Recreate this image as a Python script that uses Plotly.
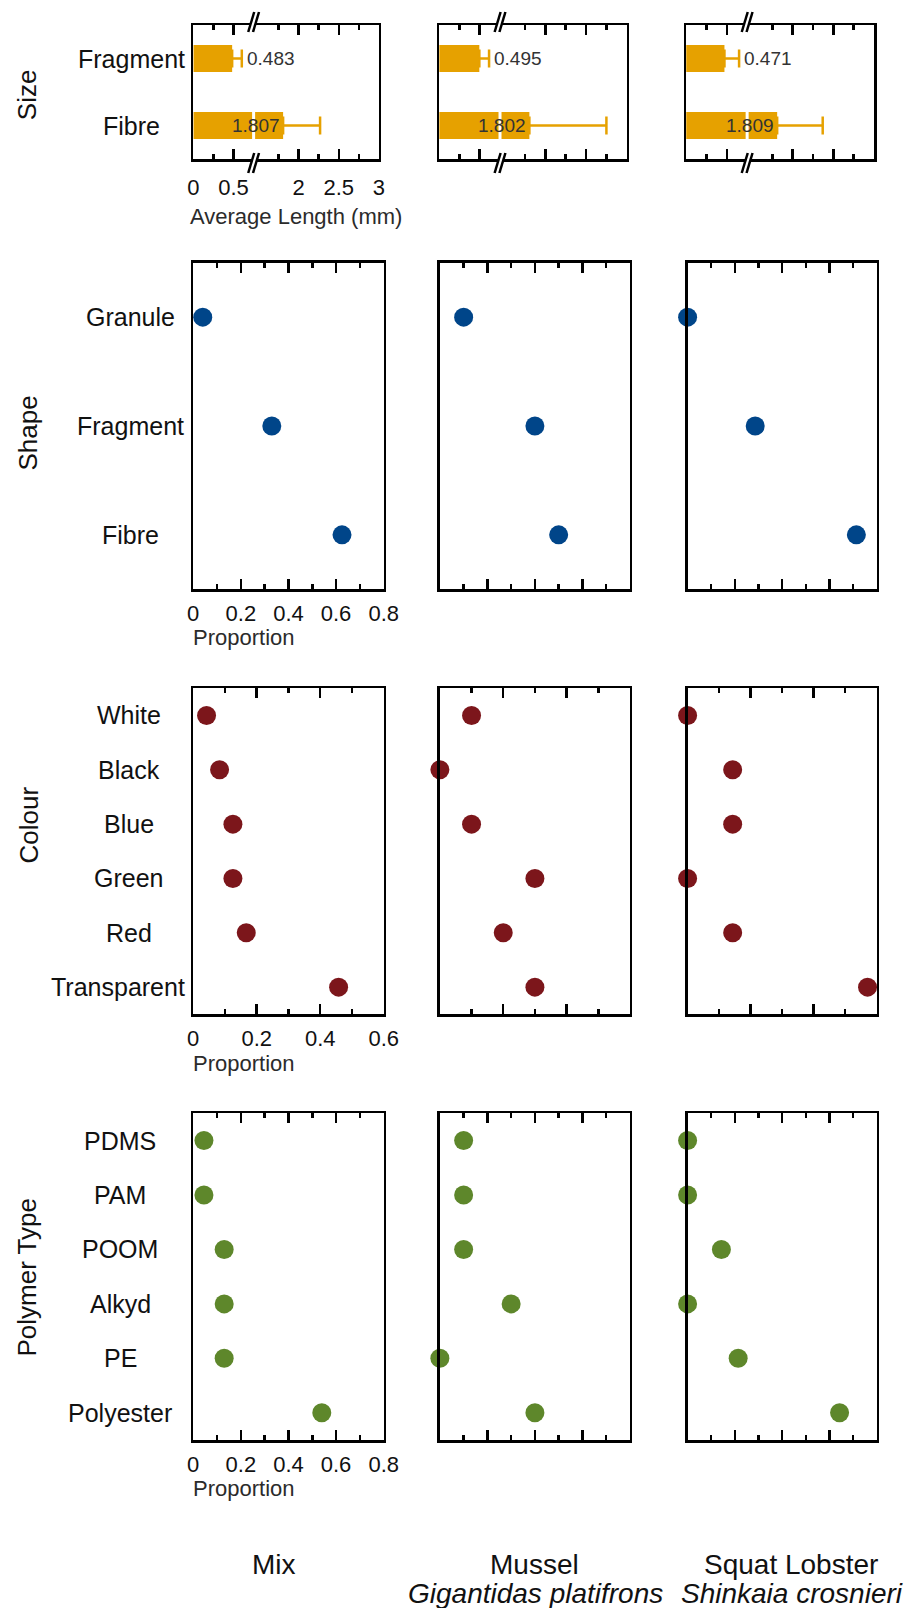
import plotly.graph_objects as go

W, H = 921, 1608

# ---------------- data ----------------
column_names = ["Mix", "Mussel", "Squat Lobster"]
species_names = ["", "Gigantidas platifrons", "Shinkaia crosnieri"]
row_titles = ["Size", "Shape", "Colour", "Polymer Type"]

size_cats = ["Fragment", "Fibre"]
size_mix = [0.483, 1.807]
size_mussel = [0.495, 1.802]
size_squat = [0.471, 1.809]
size_err_mix = [0.12, 0.46]
size_err_mussel = [0.12, 0.95]
size_err_squat = [0.18, 0.56]
size_tick_vals = [0, 0.5, 2, 2.5, 3]
size_tick_text = ["0", "0.5", "2", "2.5", "3"]
size_minor_vals = [0.25, 1.75, 2.25, 2.75]

shape_cats = ["Granule", "Fragment", "Fibre"]
shape_mix = [0.04, 0.33, 0.625]
shape_mussel = [0.10, 0.40, 0.50]
shape_squat = [0.0, 0.286, 0.714]

colour_cats = ["White", "Black", "Blue", "Green", "Red", "Transparent"]
colour_mix = [0.042, 0.083, 0.125, 0.125, 0.167, 0.458]
colour_mussel = [0.10, 0.0, 0.10, 0.30, 0.20, 0.30]
colour_squat = [0.0, 0.143, 0.143, 0.0, 0.143, 0.571]

polymer_cats = ["PDMS", "PAM", "POOM", "Alkyd", "PE", "Polyester"]
polymer_mix = [0.045, 0.045, 0.13, 0.13, 0.13, 0.54]
polymer_mussel = [0.10, 0.10, 0.10, 0.30, 0.0, 0.40]
polymer_squat = [0.0, 0.0, 0.143, 0.0, 0.214, 0.643]

# ---------------- style ----------------
FONT = "Liberation Sans, Arial, Helvetica, sans-serif"
ORANGE = "#E6A100"
BLUE = "#004589"
RED = "#7C161B"
GREEN = "#5E872B"
TXT = "#111111"
GREY = "#2b2b2b"
LW = 2.5

# broken axis for the size row
BREAK_LO = 0.75
GAP = 0.69


def brk(v):
    return v if v <= BREAK_LO else v - GAP


col_px = [(191.6, 386.5), (444.0, 638.5), (697.5, 891.0)]
size_col_px = [(191.7, 381.7), (443.3, 635.0), (696.0, 888.3)]
row_px = [(25.0, 159.0), (262.7, 589.3), (688.3, 1014.3), (1113.3, 1440.0)]
label_center_px = [128.5, 127.7, 125.5, 116.7]
label_right_px = 185.0
row_title_pos = [(21.7, 95.0), (22.5, 432.5), (24.0, 825.0), (21.0, 1278.0)]


def px_x(p):
    return p / W


def px_y(p):
    return 1 - p / H


fig = go.Figure()
layout = dict(
    width=W, height=H, margin=dict(l=0, r=0, t=0, b=0),
    plot_bgcolor="white", paper_bgcolor="white", showlegend=False,
    font=dict(family=FONT, color=TXT),
)
annotations = []
shapes = []

rows = [
    ("size", size_cats, [size_mix, size_mussel, size_squat], None),
    ("shape", shape_cats, [shape_mix, shape_mussel, shape_squat], BLUE),
    ("colour", colour_cats, [colour_mix, colour_mussel, colour_squat], RED),
    ("polymer", polymer_cats, [polymer_mix, polymer_mussel, polymer_squat], GREEN),
]
size_errs = [size_err_mix, size_err_mussel, size_err_squat]
xranges = {"shape": 0.8, "colour": 0.6, "polymer": 0.8}

for r, (kind, cats, series, color) in enumerate(rows):
    top, bot = row_px[r]
    for c in range(3):
        idx = r * 3 + c + 1
        xa = "x" if idx == 1 else f"x{idx}"
        ya = "y" if idx == 1 else f"y{idx}"
        xl, xr = (size_col_px if kind == "size" else col_px)[c]
        n = len(cats)
        xaxis = dict(
            domain=[px_x(xl), px_x(xr)], anchor=ya,
            showline=True, linecolor="black", linewidth=LW, mirror="ticks",
            ticks="inside", ticklen=10, tickwidth=LW, tickcolor="black",
            showgrid=False, zeroline=False,
            showticklabels=(c == 0),
            tickfont=dict(size=22, color=TXT, family=FONT),
        )
        yaxis = dict(
            domain=[px_y(bot), px_y(top)], anchor=xa,
            type="category", categoryorder="array", categoryarray=cats,
            range=[n - 0.5, -0.5],
            showline=True, linecolor="black", linewidth=LW, mirror=True,
            ticks="", showticklabels=False, showgrid=False, zeroline=False,
        )
        if kind == "size":
            xaxis.update(
                range=[0, brk(3)], tickmode="array",
                tickvals=[brk(v) for v in size_tick_vals], ticktext=size_tick_text,
                ticklabelstandoff=7,
                minor=dict(ticks="inside", ticklen=5, tickwidth=LW, tickcolor="black",
                           tickmode="array", tickvals=[brk(v) for v in size_minor_vals],
                           showgrid=False),
                layer="above traces",
            )
            vals = series[c]
            errs = size_errs[c]
            fig.add_trace(go.Bar(
                x=[brk(v) for v in vals], y=cats, orientation="h", width=0.4,
                marker=dict(color=ORANGE, line=dict(width=0)),
                error_x=dict(type="data", symmetric=False,
                             array=[brk(v + e) - brk(v) for v, e in zip(vals, errs)],
                             arrayminus=[0] * len(vals),
                             color=ORANGE, thickness=2.5, width=9),
                xaxis=xa, yaxis=ya, hoverinfo="skip",
            ))
            for i, (v, e) in enumerate(zip(vals, errs)):
                if v > BREAK_LO:
                    annotations.append(dict(
                        x=brk(v), y=i, xref=xa, yref=ya, text=f"{v:.3f}",
                        xanchor="right", yanchor="middle", xshift=-1, showarrow=False,
                        font=dict(size=19, color="#333333", family=FONT)))
                else:
                    annotations.append(dict(
                        x=brk(v + e), y=i, xref=xa, yref=ya, text=f"{v:.3f}",
                        xanchor="left", yanchor="middle", xshift=3, showarrow=False,
                        font=dict(size=19, color="#333333", family=FONT)))
            # axis break marks
            xb = BREAK_LO
            shapes.append(dict(type="line", xref=xa, yref="paper",
                               x0=xb, x1=xb, y0=px_y(bot), y1=px_y(top),
                               line=dict(color="white", width=3)))
            for (ypix, lo, hi) in [(top, -7, 13), (bot, -14, 6)]:
                shapes.append(dict(type="line", xref=xa, yref="paper",
                                   xsizemode="pixel", xanchor=xb,
                                   ysizemode="pixel", yanchor=px_y(ypix),
                                   x0=-3, x1=3, y0=lo, y1=hi,
                                   line=dict(color="white", width=4)))
                for off in (-2.4, 2.4):
                    shapes.append(dict(type="line", xref=xa, yref="paper",
                                       xsizemode="pixel", xanchor=xb,
                                       ysizemode="pixel", yanchor=px_y(ypix),
                                       x0=off - 3, x1=off + 3, y0=lo, y1=hi,
                                       line=dict(color="black", width=2.5)))
        else:
            xmax = xranges[kind]
            xaxis.update(
                range=[0, xmax], tickmode="linear", tick0=0, dtick=0.2,
                ticklabelstandoff=3,
                minor=dict(ticks="inside", ticklen=5, tickwidth=LW, tickcolor="black",
                           dtick=0.1, showgrid=False),
                layer="below traces",
            )
            fig.add_trace(go.Scatter(
                x=series[c], y=cats, mode="markers",
                marker=dict(color=color, size=19, line=dict(width=0)),
                cliponaxis=False, xaxis=xa, yaxis=ya, hoverinfo="skip",
            ))
        layout["xaxis" if idx == 1 else f"xaxis{idx}"] = xaxis
        layout["yaxis" if idx == 1 else f"yaxis{idx}"] = yaxis

        if c == 0:
            for i, cat in enumerate(cats):
                if len(cat) > 10:
                    annotations.append(dict(
                        x=px_x(label_right_px), y=i, xref="paper", yref=ya, text=cat,
                        xanchor="right", yanchor="middle", showarrow=False,
                        font=dict(size=25, color=TXT, family=FONT)))
                else:
                    annotations.append(dict(
                        x=px_x(label_center_px[r]), y=i, xref="paper", yref=ya, text=cat,
                        xanchor="center", yanchor="middle", showarrow=False,
                        font=dict(size=25, color=TXT, family=FONT)))
            # x-axis title
            if kind == "size":
                annotations.append(dict(
                    x=px_x(186.7), y=px_y(217), xref="paper", yref="paper",
                    text="Average Length (mm)", xanchor="left", yanchor="middle",
                    showarrow=False, font=dict(size=22, color=GREY, family=FONT)))
            else:
                annotations.append(dict(
                    x=px_x(189.5), y=px_y(bot + 48.7), xref="paper", yref="paper",
                    text="Proportion", xanchor="left", yanchor="middle",
                    showarrow=False, font=dict(size=22, color=GREY, family=FONT)))

    # row title
    tx, ty = row_title_pos[r]
    annotations.append(dict(
        x=px_x(tx), y=px_y(ty), xref="paper", yref="paper", text=row_titles[r],
        textangle=-90, xanchor="center", yanchor="middle", showarrow=False,
        font=dict(size=26, color=TXT, family=FONT)))

# column labels at the bottom
col_label_x = [274.0, 541.0, 803.5]
for c in range(3):
    annotations.append(dict(
        x=px_x(col_label_x[c]), y=px_y(1564), xref="paper", yref="paper",
        text=column_names[c], xanchor="center", yanchor="middle", showarrow=False,
        font=dict(size=28, color=TXT, family=FONT)))
    if species_names[c]:
        annotations.append(dict(
            x=px_x(col_label_x[c] + 0.5), y=px_y(1593), xref="paper", yref="paper",
            text=f"<i>{species_names[c]}</i>", xanchor="center", yanchor="middle",
            showarrow=False, font=dict(size=28, color=TXT, family=FONT)))

layout["annotations"] = annotations
layout["shapes"] = shapes
fig.update_layout(**layout)
fig.write_html(
    "out.html",
    config={"displayModeBar": False, "staticPlot": True},
    post_script="document.body.style.margin='0';document.body.style.overflow='hidden';",
)
